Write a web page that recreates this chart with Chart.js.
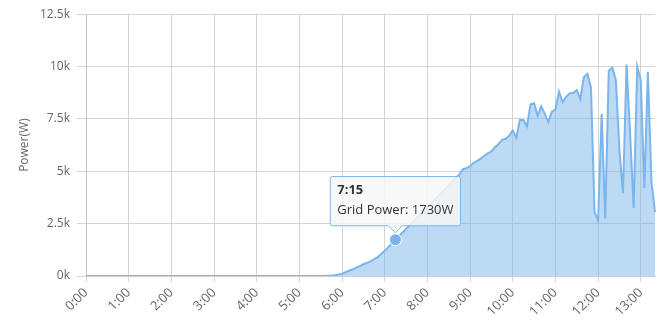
<!DOCTYPE html>
<html lang="en">
<head>
<meta charset="UTF-8">
<title>Grid Power</title>
<script src="https://cdn.jsdelivr.net/npm/chart.js"></script>
<style>
    body { margin: 0; padding: 0; background: #fff; }
    #wrap { width: 667px; height: 328px; }
</style>
</head>
<body>
<div id="wrap"><canvas id="powerChart" width="667" height="328"></canvas></div>
<script>
// 5 minute samples from 0:00 to 13:20
const timeLabels = [];
for (let m = 0; m <= 800; m += 5) {
    timeLabels.push(Math.floor(m / 60) + ':' + String(m % 60).padStart(2, '0'));
}

// Grid power in W, one row per hour
const gridPower = [
    0, 0, 0, 0, 0, 0, 0, 0, 0, 0, 0, 0,
    0, 0, 0, 0, 0, 0, 0, 0, 0, 0, 0, 0,
    0, 0, 0, 0, 0, 0, 0, 0, 0, 0, 0, 0,
    0, 0, 0, 0, 0, 0, 0, 0, 0, 0, 0, 0,
    0, 0, 0, 0, 0, 0, 0, 0, 0, 0, 0, 0,
    0, 0, 0, 0, 0, 0, 0, 0, 10, 20, 40, 70,
    110, 180, 250, 320, 400, 470, 560, 620, 700, 800, 900, 1050,
    1200, 1380, 1550, 1730, 1900, 2080, 2250, 2420, 2600, 2770, 2940, 3110,
    3290, 3460, 3640, 3810, 3980, 4150, 4330, 4500, 4680, 4850, 5100, 5150,
    5250, 5400, 5500, 5600, 5750, 5850, 5950, 6150, 6300, 6500, 6550, 6700,
    6950, 6600, 7450, 7450, 7150, 8200, 8250, 7650, 8100, 7750, 7350, 7850,
    7950, 8800, 8300, 8550, 8720, 8750, 8880, 8450, 9500, 9650, 9000, 3050,
    2650, 7750, 2750, 9800, 9950, 9350, 6000, 3950, 10100, 6800, 3250, 10000,
    9350, 4200, 9750, 4500, 3050
];

const yTicks = [0, 2500, 5000, 7500, 10000, 12500];
const hoverIndex = 87; // 7:15

Chart.defaults.font.family = "'Open Sans', sans-serif";
Chart.defaults.color = '#666';

const ctx = document.getElementById('powerChart').getContext('2d');
const chart = new Chart(ctx, {
    type: 'line',
    data: {
        labels: timeLabels,
        datasets: [{
            label: 'Grid Power',
            data: gridPower,
            borderColor: '#7cb5ec',
            backgroundColor: 'rgba(124, 181, 236, 0.5)',
            borderWidth: 2,
            fill: 'origin',
            tension: 0,
            pointRadius: 0,
            pointHoverRadius: 6,
            pointHoverBackgroundColor: '#7cb5ec',
            pointHoverBorderColor: '#ffffff',
            pointHoverBorderWidth: 1
        }]
    },
    options: {
        responsive: false,
        animation: false,
        layout: { padding: { top: 14, right: 12, left: 0, bottom: 0 } },
        plugins: {
            legend: { display: false },
            tooltip: {
                enabled: true,
                backgroundColor: 'rgba(247, 247, 247, 0.85)',
                borderColor: '#7cb5ec',
                borderWidth: 1,
                cornerRadius: 2,
                titleColor: '#333',
                bodyColor: '#333',
                titleFont: { size: 13, weight: 'bold' },
                bodyFont: { size: 13 },
                titleMarginBottom: 4,
                padding: { top: 6, bottom: 8, left: 7, right: 7 },
                caretSize: 7,
                caretPadding: 7,
                displayColors: false,
                xAlign: 'center',
                yAlign: 'bottom',
                callbacks: {
                    label: item => 'Grid Power: ' + item.raw + 'W'
                }
            }
        },
        scales: {
            x: {
                type: 'category',
                offset: false,
                afterBuildTicks: axis => {
                    axis.ticks = axis.ticks.filter(t => t.value % 12 === 0);
                },
                afterFit: axis => { axis.height = 52; },
                ticks: {
                    autoSkip: false,
                    maxRotation: 45,
                    minRotation: 45,
                    padding: 3,
                    font: { size: 13 },
                    color: '#666'
                },
                grid: { color: '#d4d4d4', tickLength: 6 },
                border: { color: '#c8d2e0' }
            },
            y: {
                min: 0,
                max: 12500,
                afterBuildTicks: axis => {
                    axis.ticks = yTicks.map(v => ({ value: v }));
                },
                afterFit: axis => { axis.width = 86; },
                ticks: {
                    padding: 7,
                    font: { size: 12 },
                    color: '#666',
                    callback: v => (v / 1000) + 'k'
                },
                grid: { color: '#d4d4d4', tickLength: 9 },
                border: { color: '#c0c0c0' },
                title: {
                    display: true,
                    text: 'Power(W)',
                    color: '#666',
                    font: { size: 12 },
                    padding: { top: 17, bottom: 0 }
                }
            }
        }
    }
});

// show the hovered point and its tooltip like in the screenshot
const active = [{ datasetIndex: 0, index: hoverIndex }];
const pt = chart.getDatasetMeta(0).data[hoverIndex];
chart.setActiveElements(active);
chart.tooltip.setActiveElements(active, { x: pt.x, y: pt.y });
chart.update();
</script>
</body>
</html>
